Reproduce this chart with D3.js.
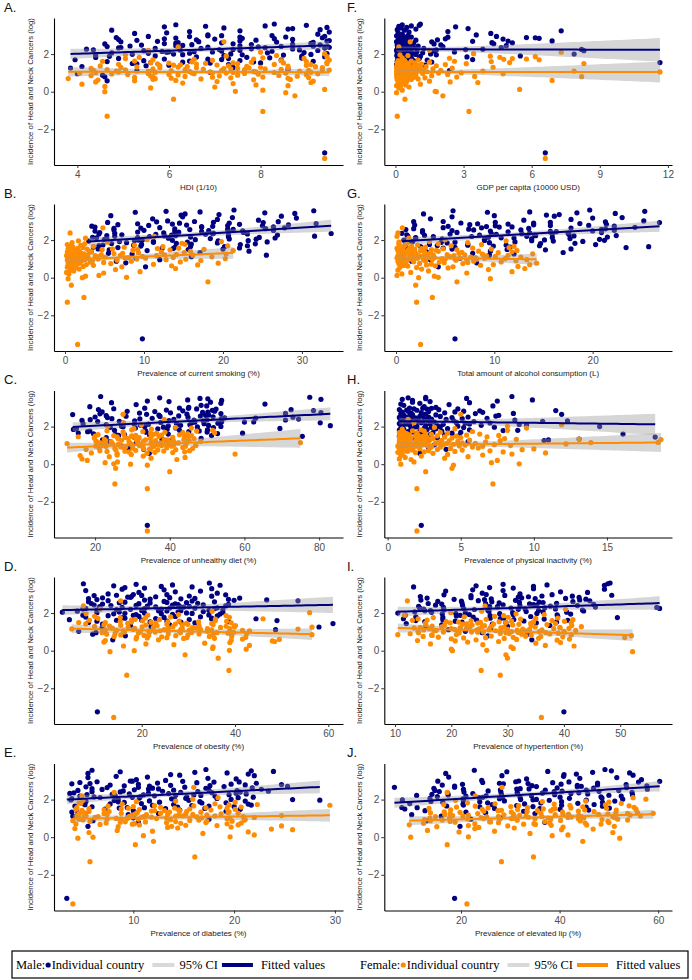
<!DOCTYPE html>
<html>
<head>
<meta charset="utf-8">
<script src="https://cdn.jsdelivr.net/npm/d3@7"></script>
<style>
  body { margin: 0; background: #fff; }
</style>
</head>
<body>
<script>
// log incidence per country (sorted), male and female
const maleInc = [
  -3.25, 0.58, 0.79, 0.88, 0.96, 1.03, 1.12, 1.2, 1.26, 1.29,
  1.34, 1.38, 1.41, 1.44, 1.48, 1.5, 1.52, 1.53, 1.55, 1.57,
  1.58, 1.6, 1.62, 1.63, 1.65, 1.66, 1.68, 1.7, 1.71, 1.73,
  1.74, 1.76, 1.77, 1.79, 1.8, 1.82, 1.83, 1.85, 1.86, 1.88,
  1.89, 1.9, 1.92, 1.93, 1.95, 1.96, 1.97, 1.98, 1.99, 2.0,
  2.01, 2.02, 2.04, 2.05, 2.06, 2.07, 2.08, 2.1, 2.11, 2.12,
  2.13, 2.14, 2.15, 2.16, 2.18, 2.19, 2.2, 2.21, 2.22, 2.23,
  2.24, 2.25, 2.26, 2.27, 2.28, 2.3, 2.31, 2.32, 2.33, 2.34,
  2.35, 2.36, 2.37, 2.38, 2.4, 2.41, 2.42, 2.43, 2.44, 2.45,
  2.46, 2.48, 2.49, 2.5, 2.51, 2.52, 2.54, 2.55, 2.56, 2.57,
  2.58, 2.6, 2.61, 2.62, 2.64, 2.65, 2.66, 2.68, 2.69, 2.7,
  2.72, 2.73, 2.74, 2.76, 2.77, 2.78, 2.8, 2.81, 2.82, 2.84,
  2.85, 2.87, 2.88, 2.9, 2.91, 2.93, 2.94, 2.95, 2.97, 2.98,
  2.99, 3.02, 3.06, 3.1, 3.13, 3.17, 3.2, 3.24, 3.27, 3.3,
  3.33, 3.36, 3.39, 3.42, 3.45, 3.48, 3.5, 3.53, 3.56, 3.6
];
const femaleInc = [
  -3.55, -1.3, -1.05, -0.4, -0.22, -0.05, 0.0, 0.02, 0.08, 0.12,
  0.2, 0.25, 0.28, 0.32, 0.36, 0.4, 0.43, 0.46, 0.49, 0.52,
  0.54, 0.56, 0.58, 0.6, 0.62, 0.63, 0.65, 0.66, 0.68, 0.69,
  0.7, 0.71, 0.72, 0.74, 0.75, 0.76, 0.77, 0.78, 0.8, 0.81,
  0.82, 0.83, 0.84, 0.85, 0.86, 0.88, 0.89, 0.9, 0.91, 0.92,
  0.93, 0.94, 0.95, 0.96, 0.96, 0.97, 0.98, 0.98, 0.99, 0.99,
  1.0, 1.01, 1.02, 1.02, 1.03, 1.04, 1.05, 1.05, 1.06, 1.07,
  1.08, 1.08, 1.09, 1.1, 1.1, 1.11, 1.12, 1.13, 1.13, 1.14,
  1.15, 1.16, 1.17, 1.17, 1.18, 1.19, 1.2, 1.21, 1.21, 1.22,
  1.23, 1.24, 1.24, 1.25, 1.26, 1.27, 1.27, 1.28, 1.29, 1.3,
  1.31, 1.32, 1.33, 1.34, 1.35, 1.36, 1.37, 1.38, 1.39, 1.4,
  1.41, 1.42, 1.43, 1.44, 1.45, 1.46, 1.47, 1.48, 1.49, 1.5,
  1.51, 1.52, 1.53, 1.54, 1.55, 1.56, 1.57, 1.59, 1.6, 1.62,
  1.63, 1.65, 1.67, 1.68, 1.7, 1.72, 1.74, 1.76, 1.78, 1.8,
  1.83, 1.86, 1.89, 1.92, 1.96, 2.02, 2.1, 2.2, 2.38, 2.65
];

// risk factors, same order as the incidence arrays
const hdiMale = [
  9.4, 4.65, 4.6, 4.55, 4.0, 6.9, 5.3, 8.6, 3.85, 7.4,
  4.1, 5.5, 6.0, 7.3, 5.3, 5.2, 6.9, 8.0, 5.6, 6.3,
  7.85, 4.65, 9.15, 6.45, 5.45, 7.55, 8.45, 3.95, 7.15, 6.85,
  5.9, 7.3, 4.9, 8.9, 8.2, 4.4, 7.7, 6.6, 9.4, 4.7,
  8.9, 5.7, 7.2, 4.4, 8.5, 7.6, 6.3, 9.1, 5.2, 6.1,
  7.35, 9.45, 5.55, 6.45, 4.75, 8.15, 8.95, 5.95, 6.95, 6.0,
  6.55, 5.85, 8.25, 7.15, 5.45, 9.25, 7.55, 6.25, 8.85, 4.35,
  7.1, 7.4, 4.2, 8.7, 7.8, 5.7, 6.7, 9.4, 4.9, 8.1,
  4.95, 9.5, 6.85, 7.95, 4.65, 8.45, 9.15, 5.15, 7.55, 6.15,
  6.3, 5.4, 9.3, 6.5, 7.8, 8.7, 4.6, 7.4, 5.9, 9.1,
  6.15, 7.15, 6.2, 9.15, 8.35, 4.95, 6.65, 5.75, 9.45, 7.55,
  9.5, 5.3, 7.9, 6.6, 4.9, 8.7, 7.0, 5.9, 8.3, 7.6,
  6.15, 9.35, 4.85, 7.55, 8.55, 6.45, 5.55, 9.4, 6.85, 7.15,
  8.25, 6.85, 9.25, 5.25, 5.95, 9.5, 6.45, 7.55, 4.75, 9.3,
  8.6, 8.7, 7.2, 9.45, 5.9, 6.8, 8.1, 9.0, 6.15, 8.3
];
const hdiFemale = [
  9.4, 4.65, 8.05, 6.1, 8.75, 8.55, 4.6, 7.45, 8.05, 9.4,
  5.6, 7.0, 4.6, 8.6, 7.9, 4.1, 7.4, 6.3, 9.1, 4.4,
  7.05, 9.15, 5.25, 6.15, 4.45, 7.85, 8.65, 5.65, 6.7, 5.7,
  3.8, 8.6, 6.05, 7.35, 9.05, 5.25, 6.95, 8.05, 5.65, 6.35,
  8.8, 5.6, 7.1, 4.3, 8.4, 7.5, 6.2, 9.0, 5.1, 6.0,
  7.95, 4.75, 9.25, 6.55, 5.55, 7.65, 8.55, 4.05, 7.25, 6.95,
  6.5, 4.4, 8.3, 7.4, 9.1, 5.7, 4.9, 7.9, 6.9, 7.85,
  7.85, 6.45, 8.85, 4.85, 5.55, 9.35, 6.05, 7.15, 4.35, 9.05,
  9.5, 5.05, 7.65, 6.35, 4.65, 8.45, 6.75, 5.65, 8.1, 7.35,
  7.2, 7.5, 4.3, 8.6, 7.75, 5.8, 6.6, 9.35, 4.95, 8.0,
  6.2, 5.3, 9.2, 6.4, 7.7, 8.6, 4.5, 7.3, 5.8, 9.0,
  6.1, 7.05, 6.25, 9.1, 8.3, 4.9, 6.6, 5.75, 9.45, 7.5,
  6.8, 6.0, 8.5, 7.4, 5.6, 9.45, 7.8, 6.5, 9.0, 4.55,
  5.25, 8.45, 6.95, 9.5, 5.65, 6.55, 7.85, 5.05, 8.95, 8.05,
  5.35, 9.45, 7.25, 8.35, 5.05, 9.4, 8.0, 5.55, 6.2, 7.2
];
const smokeMale = [
  9.8, 10.2, 7.7, 6.5, 12, 9, 16, 25.5, 8.5, 5.5,
  17.1, 3.3, 23.3, 10.4, 5.6, 15.6, 20.0, 4.2, 13.7, 12.3,
  22.1, 6.7, 13.9, 3.6, 20.2, 15.9, 9.6, 23.1, 4.3, 8.7,
  4.8, 22.2, 9.7, 16.0, 24.1, 5.9, 14.1, 19.3, 7.8, 11.2,
  15.5, 25.6, 6.9, 11.2, 3.0, 19.4, 23.2, 8.8, 13.6, 9.3,
  9.8, 16.5, 5.0, 24.2, 20.8, 5.3, 18.4, 13.1, 26.6, 4.0,
  9.2, 24.6, 3.5, 15.9, 20.7, 10.7, 6.3, 31.6, 12.6, 14.0,
  5.3, 20.7, 13.5, 26.9, 7.2, 11.5, 17.8, 4.3, 23.1, 18.7,
  33.7, 6.3, 18.8, 12.5, 4.4, 22.6, 14.4, 9.2, 20.7, 17.3,
  13.9, 3.8, 22.5, 18.2, 26.4, 10.0, 6.2, 20.6, 15.8, 21.3,
  20.6, 13.9, 25.4, 6.2, 9.6, 27.8, 12.0, 17.3, 3.8, 26.4,
  17.3, 18.7, 3.4, 25.0, 20.6, 10.6, 15.4, 28.3, 6.7, 22.1,
  13.6, 9.2, 31.8, 14.5, 20.8, 25.1, 5.4, 18.8, 11.6, 27.0,
  16.4, 13.0, 24.5, 19.3, 11.1, 29.3, 21.2, 14.9, 27.4, 5.8,
  14.7, 19.5, 15.2, 29.1, 25.3, 8.9, 17.1, 12.8, 31.5, 21.4
];
const smokeFemale = [
  1.6, 0.3, 2.4, 0.8, 18.1, 0.4, 2.2, 7.8, 2.6, 4.3,
  0.5, 4.9, 0.2, 9.5, 1.1, 0.7, 6.4, 1.8, 14.0, 0.9,
  1.4, 0.3, 7.2, 2.3, 0.8, 13.5, 0.6, 3.6, 16.8, 1.2,
  2.7, 11.2, 0.4, 1.6, 5.8, 0.9, 19.4, 1.9, 0.6, 4.9,
  0.8, 3.2, 14.6, 0.4, 1.3, 8.4, 2.1, 0.6, 17.2, 3.5,
  6.6, 1.0, 0.3, 12.8, 2.5, 1.7, 0.5, 15.3, 9.1, 4.2,
  0.7, 20.3, 1.5, 3.0, 0.4, 10.2, 2.2, 7.6, 1.1, 8.0,
  13.7, 0.9, 2.6, 0.5, 5.1, 18.6, 1.4, 0.3, 9.8, 4.1,
  1.9, 0.6, 11.6, 3.8, 0.2, 7.0, 16.2, 1.2, 2.9, 12.6,
  4.6, 14.1, 0.8, 1.5, 20.4, 0.4, 2.4, 6.2, 0.7, 7.3,
  0.6, 2.0, 9.3, 15.1, 1.3, 0.3, 12.2, 3.3, 1.0, 15.9,
  3.1, 0.5, 1.8, 21.3, 8.6, 1.2, 0.8, 13.3, 4.7, 9.2,
  17.6, 2.8, 0.4, 6.0, 11.7, 1.6, 14.4, 0.7, 2.3, 7.5,
  1.0, 12.4, 3.6, 0.6, 20.6, 2.0, 8.8, 0.3, 15.2, 2.5,
  14.8, 0.9, 5.4, 19.8, 1.7, 10.4, 2.6, 11.3, 0.65, 4.8
];
const dietMale = [
  34, 34.5, 33, 29, 27, 36, 31, 24, 40, 22,
  37.9, 48.4, 23.0, 30.4, 75.5, 44.6, 51.2, 26.3, 34.6, 25.5,
  27.9, 39.6, 19.6, 52.8, 59.5, 15.5, 42.9, 33.7, 50.0, 18.0,
  45.1, 18.6, 47.9, 33.5, 25.2, 42.6, 50.1, 14.2, 39.3, 36.8,
  15.0, 69.5, 30.8, 41.6, 51.7, 24.1, 38.3, 47.4, 27.5, 33.3,
  53.7, 27.1, 39.6, 83.0, 50.4, 42.9, 32.1, 45.4, 23.0, 30.5,
  34.3, 16.8, 49.2, 41.8, 52.9, 27.6, 80.3, 45.9, 37.6, 46.7,
  60.0, 62.5, 53.9, 20.7, 26.5, 49.0, 30.6, 39.8, 16.5, 46.5,
  71.0, 50.0, 18.7, 41.1, 74.5, 32.0, 24.5, 53.8, 35.3, 63.0,
  54.7, 23.3, 44.9, 73.0, 20.0, 51.6, 37.4, 28.3, 48.2, 42.4,
  23.0, 49.6, 37.1, 50.4, 14.0, 33.8, 44.6, 21.3, 53.7, 71.0,
  31.9, 40.2, 80.5, 48.8, 50.2, 21.9, 36.0, 28.6, 52.0, 43.5,
  78.5, 51.4, 39.1, 72.5, 20.9, 52.4, 47.2, 25.0, 45.0, 33.3,
  42.6, 45.1, 18.6, 49.9, 48.4, 31.0, 65.5, 53.7, 24.4, 50.9,
  39.8, 34.0, 53.9, 44.8, 80.5, 50.2, 48.1, 37.3, 77.5, 21.5
];
const dietFemale = [
  34, 34, 25.3, 40, 25.5, 34, 29.5, 25, 22.7, 26,
  17.9, 41.9, 16.5, 35.0, 44.1, 23.8, 32.9, 16.0, 25.9, 29.7,
  57.5, 25.9, 33.9, 19.0, 40.8, 36.0, 29.1, 44.0, 23.2, 28.0,
  38.4, 21.3, 45.3, 30.9, 25.6, 36.8, 41.6, 17.6, 34.6, 33.0,
  34.9, 46.1, 25.3, 30.1, 21.1, 39.2, 43.5, 27.5, 32.8, 26.9,
  28.2, 35.7, 22.9, 44.2, 40.5, 20.2, 37.8, 31.9, 46.9, 21.8,
  47.0, 23.0, 36.8, 29.9, 20.8, 41.1, 32.0, 26.2, 39.0, 35.2,
  22.5, 39.6, 31.6, 12.5, 24.7, 29.5, 36.4, 21.5, 42.3, 37.5,
  75.0, 44.6, 20.6, 35.0, 40.3, 29.1, 24.3, 48.3, 31.3, 32.9,
  31.4, 20.2, 41.0, 36.2, 45.2, 27.1, 22.8, 38.8, 33.5, 39.5,
  38.5, 31.0, 43.8, 22.5, 26.2, 46.5, 28.9, 34.8, 19.8, 44.9,
  31.8, 28.0, 40.8, 35.0, 25.9, 15.5, 37.1, 30.2, 44.0, 20.0,
  29.8, 25.0, 45.8, 30.9, 37.8, 42.6, 20.8, 35.7, 27.7, 44.8,
  34.9, 36.5, 52.0, 43.5, 38.7, 27.5, 32.8, 47.2, 23.2, 51.5,
  29.8, 35.1, 30.4, 45.8, 41.5, 23.4, 32.4, 27.6, 38.5, 27.5
];
const obesMale = [
  10.5, 13.8, 16.5, 9.5, 10.2, 6.5, 48.7, 11.5, 58.0, 22.0,
  17.6, 26.0, 11.6, 61.0, 31.4, 8.6, 28.4, 21.8, 38.6, 10.4,
  25.4, 49.0, 14.6, 20.0, 4.5, 30.2, 35.0, 44.5, 23.0, 16.4,
  35.0, 15.8, 24.8, 8.0, 32.6, 27.2, 19.4, 36.2, 12.8, 18.2,
  7.4, 34.4, 18.8, 26.6, 36.8, 14.0, 24.2, 30.8, 16.4, 20.6,
  29.6, 10.4, 37.4, 3.0, 15.2, 27.8, 33.2, 6.2, 25.4, 23.6,
  28.4, 20.0, 34.4, 10.4, 14.6, 37.4, 17.6, 24.2, 7.4, 35.6,
  20.6, 8.0, 31.4, 26.0, 36.2, 15.8, 11.0, 29.0, 23.0, 28.2,
  11.0, 30.2, 21.2, 38.0, 13.4, 18.8, 26.6, 9.8, 33.2, 27.8,
  38.6, 11.6, 27.2, 19.4, 9.2, 32.0, 21.8, 15.2, 29.6, 25.4,
  16.4, 35.6, 8.6, 24.8, 30.8, 53.5, 12.8, 39.8, 20.6, 46.8,
  10.4, 38.6, 21.8, 28.4, 8.6, 31.4, 41.0, 11.6, 26.0, 17.6,
  17.0, 23.0, 17.8, 35.0, 30.2, 9.8, 20.0, 14.6, 38.0, 25.4,
  18.2, 12.8, 36.2, 19.4, 27.2, 32.6, 8.0, 24.8, 15.8, 35.0,
  20.6, 16.4, 30.8, 24.2, 14.0, 36.8, 26.6, 18.8, 7.5, 34.5
];
const obesFemale = [
  14, 16.8, 38.7, 36.4, 29.3, 13.2, 18.4, 38.8, 42.4, 35.2,
  35.3, 16.1, 43.1, 26.9, 20.9, 33.5, 38.9, 11.9, 48.5, 48.0,
  12.2, 39.2, 23.6, 49.5, 41.6, 18.8, 29.0, 35.6, 21.2, 25.4,
  29.7, 42.3, 18.9, 24.3, 14.1, 34.5, 39.3, 21.3, 27.3, 20.5,
  21.5, 29.9, 15.5, 56.5, 35.3, 12.5, 32.3, 25.7, 42.5, 14.3,
  38.5, 19.3, 28.3, 11.5, 36.1, 30.7, 22.9, 39.7, 16.3, 21.7,
  19.7, 38.9, 11.9, 28.1, 34.1, 21.5, 16.1, 43.1, 23.9, 25.7,
  41.6, 14.6, 30.2, 22.4, 12.2, 35.0, 24.8, 18.2, 32.6, 28.4,
  53.5, 5.0, 34.1, 28.7, 38.9, 18.5, 13.7, 31.7, 25.7, 32.3,
  30.9, 22.5, 36.9, 56.5, 17.1, 39.9, 20.1, 26.7, 9.9, 38.1,
  13.1, 32.3, 23.3, 40.1, 15.5, 20.9, 28.7, 11.9, 35.3, 29.9,
  25.4, 27.2, 8.0, 35.0, 29.6, 17.0, 23.0, 39.2, 12.2, 6.5,
  22.0, 17.8, 32.2, 25.6, 15.4, 38.2, 28.0, 20.2, 35.8, 8.8,
  17.8, 23.8, 18.6, 35.8, 46.0, 10.6, 20.8, 15.4, 38.8, 26.2,
  9.9, 38.1, 21.3, 27.9, 8.1, 56.0, 35.1, 11.1, 7.5, 15.5
];
const diabMale = [
  3.4, 5.5, 10.5, 6.0, 17.5, 10.0, 4.0, 9.5, 12.5, 4.5,
  3.9, 19.2, 10.0, 14.6, 20.6, 7.2, 13.2, 17.1, 8.6, 11.1,
  9.4, 14.4, 5.9, 20.0, 17.5, 4.2, 15.8, 11.9, 21.7, 5.2,
  14.0, 21.4, 7.7, 10.8, 4.9, 16.8, 19.2, 9.1, 12.6, 8.5,
  16.6, 5.3, 21.1, 11.6, 8.1, 15.5, 28.5, 3.8, 14.1, 25.8,
  19.7, 8.5, 13.8, 3.9, 18.3, 15.2, 10.6, 20.4, 6.7, 9.9,
  21.9, 6.1, 15.3, 10.7, 4.7, 18.1, 12.1, 8.2, 16.7, 14.2,
  16.0, 11.0, 19.5, 5.4, 7.9, 21.2, 9.6, 13.5, 3.7, 20.2,
  11.5, 4.1, 17.8, 14.7, 20.6, 8.7, 5.9, 16.4, 12.9, 23.4,
  9.0, 20.3, 4.5, 14.0, 17.5, 10.1, 6.9, 22.7, 11.5, 12.5,
  5.9, 17.2, 11.9, 21.8, 7.4, 10.5, 15.1, 5.3, 19.0, 25.3,
  11.6, 9.1, 17.6, 13.7, 7.7, 21.1, 24.7, 10.5, 19.7, 3.9,
  5.7, 22.2, 12.4, 16.3, 4.7, 18.0, 20.5, 6.4, 14.9, 9.9,
  9.7, 13.2, 10.3, 20.2, 17.4, 5.5, 11.4, 8.3, 22.0, 14.6,
  13.7, 21.4, 5.5, 19.3, 16.1, 8.7, 23.9, 21.7, 5.9, 17.2
];
const diabFemale = [
  4.0, 5.7, 16.1, 10.2, 12.0, 4.5, 6.0, 19.6, 11.0, 22.0,
  16.9, 5.6, 21.4, 11.9, 8.4, 25.8, 23.7, 4.2, 14.4, 13.4,
  19.7, 8.5, 13.8, 24.7, 18.3, 15.2, 10.6, 20.4, 6.7, 9.9,
  4.3, 19.3, 10.1, 14.7, 20.7, 7.3, 13.3, 17.2, 8.7, 11.2,
  9.2, 14.2, 5.7, 19.8, 17.3, 4.0, 15.6, 21.0, 16.5, 5.0,
  13.7, 21.1, 7.4, 10.5, 4.6, 16.5, 19.3, 8.8, 12.3, 9.4,
  8.3, 19.6, 4.6, 13.3, 16.8, 9.4, 6.2, 22.0, 10.8, 11.8,
  5.1, 16.3, 11.0, 20.9, 6.5, 9.6, 14.2, 4.4, 18.1, 14.9,
  24.7, 5.3, 14.5, 9.9, 4.5, 17.3, 11.3, 7.4, 15.9, 13.4,
  15.2, 10.2, 18.7, 4.6, 7.1, 20.4, 8.8, 12.7, 5.2, 19.4,
  10.4, 4.8, 16.7, 13.6, 19.5, 7.6, 5.6, 15.3, 11.8, 14.6,
  12.1, 13.1, 4.9, 17.7, 14.5, 7.1, 10.6, 20.1, 4.3, 15.6,
  8.8, 5.6, 19.3, 9.5, 14.1, 17.2, 4.4, 12.7, 20.7, 18.6,
  10.0, 7.5, 16.0, 12.1, 29.5, 19.5, 22.3, 8.9, 18.1, 4.8,
  4.6, 20.1, 10.3, 14.2, 5.0, 15.9, 18.4, 4.9, 8.1, 16.0
];
const gdpMale = [
  6.6, 0.3, 0.15, 0.5, 0.2, 0.2, 2.38, 0.6, 0.1, 0.9,
  0.4, 0.25, 1.3, 0.05, 0.7, 0.5, 0.35, 0.12, 11.65, 0.55,
  1.6, 0.2, 0.45, 0.08, 0.8, 0.3, 1.4, 0.4, 3.4, 0.15,
  0.6, 0.25, 1.05, 0.4, 0.1, 0.7, 0.35, 3.15, 0.5, 1.1,
  0.2, 5.5, 0.65, 0.06, 0.3, 1.8, 0.45, 0.9, 0.18, 7.87,
  1.55, 0.28, 0.75, 0.1, 0.55, 1.2, 0.38, 0.08, 2.6, 0.5,
  0.22, 0.95, 0.15, 1.7, 8.3, 0.42, 0.6, 0.05, 1.8, 0.3,
  3.09, 8.2, 3.85, 0.12, 0.7, 1.25, 0.35, 0.2, 0.85, 0.48,
  4.66, 0.1, 0.62, 0.25, 2.09, 0.4, 1.0, 0.15, 0.55, 4.88,
  0.3, 0.08, 2.0, 0.45, 0.7, 0.2, 1.7, 4.33, 0.35, 0.1,
  0.8, 5.15, 4.25, 0.5, 0.25, 1.6, 0.05, 3.4, 4.96, 6.9,
  0.4, 0.15, 0.9, 1.85, 0.3, 0.6, 4.74, 2.2, 0.45, 6.33,
  0.25, 6.16, 5.77, 2.31, 0.7, 0.1, 4.45, 0.35, 0.05, 0.55,
  0.2, 3.56, 0.3, 4.2, 0.12, 0.6, 2.31, 7.3, 0.4, 0.08,
  0.9, 3.2, 0.25, 0.5, 2.65, 0.15, 0.7, 1.05, 0.3, 1.1
];
const gdpFemale = [
  6.6, 0.08, 3.24, 0.42, 2.09, 0.05, 1.8, 1.75, 0.3, 5.47,
  0.15, 0.6, 0.22, 0.05, 0.45, 1.1, 0.3, 0.12, 3.63, 2.41,
  0.5, 1.5, 0.25, 6.9, 0.35, 0.08, 0.7, 0.18, 1.0, 0.4,
  0.1, 0.55, 0.28, 1.3, 0.06, 0.8, 0.35, 2.7, 8.2, 3.49,
  0.2, 0.65, 0.12, 1.6, 0.45, 0.3, 0.9, 0.05, 0.5, 2.3,
  0.15, 0.75, 4.74, 0.25, 0.4, 1.2, 0.1, 0.6, 0.32, 1.9,
  2.9, 0.2, 0.5, 0.08, 0.85, 0.38, 11.65, 0.15, 1.4, 0.55,
  0.25, 0.05, 0.7, 7.87, 3.85, 0.3, 1.05, 0.12, 0.45, 2.0,
  0.2, 0.6, 0.35, 1.25, 0.08, 0.5, 0.9, 0.18, 1.65, 0.4,
  0.1, 0.75, 0.28, 2.5, 0.55, 0.05, 1.1, 0.3, 0.65, 4.3,
  0.2, 0.45, 1.35, 0.12, 0.8, 0.35, 0.06, 1.8, 0.5, 0.25,
  0.95, 0.15, 0.6, 2.2, 0.4, 0.1, 1.15, 0.3, 3.12, 8.3,
  0.55, 0.2, 0.85, 0.08, 5.03, 0.45, 1.5, 0.25, 4.22, 2.6,
  0.7, 0.12, 0.4, 1.0, 6.33, 4.77, 5.77, 5.15, 2.38, 0.3,
  4.6, 6.16, 4.18, 0.55, 0.2, 3.44, 7.3, 1.5, 0.15, 0.65
];
const alcMale = [
  6.0, 4.3, 8.2, 1.6, 3.5, 6.5, 2.2, 9.5, 12.0, 7.8,
  17.0, 3.1, 9.6, 0.8, 15.2, 11.3, 5.7, 17.8, 1.2, 4.8,
  0.6, 23.4, 6.0, 11.6, 25.7, 2.5, 9.9, 14.6, 4.2, 7.3,
  11.2, 20.3, 3.4, 7.3, 1.0, 14.7, 18.2, 5.2, 9.5, 4.6,
  6.0, 12.1, 1.7, 19.0, 16.0, 1.4, 13.8, 9.0, 21.2, 0.8,
  15.1, 1.2, 20.7, 9.0, 4.7, 13.8, 17.7, 2.0, 12.0, 10.7,
  2.0, 15.9, 9.4, 21.5, 3.8, 7.7, 13.3, 1.2, 18.1, 14.2,
  22.4, 2.9, 14.1, 8.5, 1.1, 17.6, 10.2, 5.5, 15.9, 12.8,
  9.7, 0.6, 17.5, 13.6, 20.9, 6.2, 2.7, 15.7, 11.4, 16.3,
  15.7, 9.6, 20.0, 2.7, 5.7, 22.2, 7.9, 12.7, 1.0, 20.9,
  7.4, 21.3, 1.8, 13.5, 17.8, 8.7, 4.8, 24.3, 10.5, 11.8,
  9.2, 5.3, 22.2, 10.1, 15.7, 19.6, 1.9, 14.0, 7.5, 21.4,
  11.4, 8.3, 18.7, 14.0, 6.6, 26.8, 15.7, 10.1, 21.3, 1.8,
  4.8, 25.2, 13.0, 17.8, 3.5, 20.0, 23.0, 5.7, 16.1, 10.0,
  15.3, 16.6, 2.8, 22.3, 18.4, 9.3, 13.6, 25.3, 5.8, 19.7
];
const alcFemale = [
  2.5, 2.1, 3.7, 2.0, 6.2, 9.6, 2.3, 4.3, 3.9, 0.1,
  0.6, 7.2, 1.5, 11.8, 3.3, 0.2, 9.4, 2.6, 13.1, 5.3,
  2.1, 0.4, 5.8, 12.4, 1.2, 4.0, 0.8, 8.6, 3.1, 13.6,
  9.9, 1.0, 3.6, 0.3, 6.8, 2.4, 14.3, 0.7, 4.9, 7.3,
  0.5, 4.4, 10.7, 1.8, 0.2, 7.9, 3.0, 12.2, 1.1, 7.2,
  6.1, 0.9, 2.8, 13.3, 0.4, 3.7, 8.2, 1.6, 5.0, 6.0,
  1.3, 11.1, 0.6, 4.7, 2.2, 9.0, 0.1, 6.5, 3.4, 8.1,
  3.9, 0.3, 7.6, 1.9, 12.7, 0.8, 5.5, 2.7, 10.1, 0.5,
  0.7, 9.2, 2.3, 0.2, 5.9, 11.4, 1.4, 3.8, 7.0, 3.1,
  5.2, 1.7, 0.4, 8.8, 3.2, 0.9, 13.9, 2.0, 6.4, 2.0,
  0.3, 3.5, 10.4, 1.0, 6.7, 0.6, 2.9, 11.8, 1.5, 4.3,
  8.4, 0.8, 2.5, 0.2, 12.3, 4.1, 1.2, 6.2, 3.6, 2.7,
  1.9, 9.7, 0.5, 4.8, 2.6, 0.1, 7.8, 1.4, 11.5, 0.7,
  3.0, 0.4, 12.0, 1.6, 5.6, 0.9, 2.2, 8.7, 0.3, 4.3,
  1.1, 7.3, 0.3, 3.4, 11.2, 5.0, 1.3, 0.1, 0.2, 0.65
];
const inactMale = [
  2.3, 2.2, 4.0, 2.8, 1.5, 3.2, 0.9, 5.5, 10.7, 11.0,
  13.1, 1.8, 3.4, 18.3, 0.8, 2.6, 4.9, 1.3, 3.9, 2.1,
  2.9, 16.1, 2.2, 1.2, 4.4, 0.9, 3.1, 5.0, 1.7, 2.4,
  1.4, 3.7, 2.2, 7.9, 8.9, 0.8, 5.6, 2.7, 1.1, 3.3,
  4.1, 1.6, 2.5, 0.9, 5.2, 3.0, 7.3, 1.9, 3.6, 14.5,
  2.0, 4.8, 1.0, 3.4, 2.6, 6.4, 1.5, 9.5, 9.0, 3.8,
  1.2, 5.6, 2.9, 0.8, 5.3, 7.0, 2.3, 1.7, 4.7, 2.0,
  3.2, 1.4, 5.9, 2.4, 10.6, 12.3, 0.9, 4.5, 1.8, 2.7,
  8.7, 2.1, 1.0, 4.0, 3.0, 1.6, 5.1, 2.5, 6.8, 1.3,
  1.9, 4.4, 0.8, 2.8, 5.5, 1.2, 3.6, 2.2, 7.4, 1.5,
  2.4, 7.6, 1.1, 3.3, 1.7, 11.9, 2.6, 0.9, 6.0, 8.6,
  1.6, 3.9, 2.3, 6.5, 1.0, 4.6, 2.8, 1.4, 5.2, 6.3,
  11.5, 2.0, 1.3, 3.5, 0.8, 2.7, 4.8, 1.8, 3.0, 2.4,
  1.5, 3.3, 2.5, 7.2, 1.1, 4.2, 0.9, 2.2, 5.6, 1.7,
  2.9, 7.5, 1.7, 9.9, 1.0, 2.6, 5.4, 1.4, 2.6, 8.5
];
const inactFemale = [
  2.0, 2.0, 7.2, 2.6, 4.4, 4.5, 0.9, 9.0, 7.1, 1.8,
  7.5, 1.6, 0.8, 3.9, 1.2, 5.5, 2.3, 0.9, 6.5, 4.1,
  8.5, 1.0, 3.1, 10.8, 1.9, 0.7, 7.9, 2.5, 4.6, 1.3,
  1.4, 7.0, 2.8, 0.9, 5.1, 1.7, 9.2, 3.4, 1.1, 10.0,
  2.2, 0.8, 4.3, 1.5, 6.2, 2.9, 1.0, 3.6, 5.8, 1.8,
  3.0, 1.2, 6.5, 2.0, 0.7, 4.9, 1.6, 2.7, 8.4, 1.1,
  1.7, 5.3, 2.4, 0.9, 3.8, 7.3, 1.3, 2.1, 4.5, 1.0,
  12.2, 2.6, 1.1, 4.0, 1.8, 6.0, 0.8, 3.3, 2.2, 5.1,
  13.9, 18.5, 1.5, 3.5, 0.9, 6.7, 2.3, 1.2, 4.8, 2.8,
  1.9, 4.2, 0.8, 7.7, 2.5, 1.4, 3.7, 5.6, 1.0, 2.9,
  18.7, 8.8, 2.2, 13.1, 1.3, 8.0, 3.1, 0.9, 4.4, 2.0,
  1.6, 5.0, 2.7, 0.8, 3.9, 6.8, 1.2, 2.4, 4.7, 1.9,
  3.4, 1.0, 7.6, 2.1, 5.4, 1.5, 0.9, 3.0, 6.3, 2.6,
  1.3, 4.1, 2.0, 0.8, 3.6, 1.1, 5.8, 2.5, 1.7, 8.2,
  2.3, 1.0, 4.6, 9.5, 3.2, 8.2, 11.9, 1.8, 1.4, 5.0
];
const hyperMale = [
  40, 34.3, 26.5, 33.5, 25.5, 22.5, 19.5, 27.0, 15.5, 30.0,
  37.5, 18.3, 27.3, 12.0, 35.1, 29.7, 21.9, 38.7, 15.3, 20.7,
  32.9, 13.7, 40.7, 24.5, 18.5, 31.1, 36.5, 11.5, 28.7, 26.9,
  29.3, 49.5, 18.5, 23.9, 13.7, 34.1, 38.9, 20.9, 26.9, 21.6,
  11.8, 38.8, 23.2, 31.0, 41.2, 18.4, 28.6, 35.2, 20.8, 10.5,
  22.5, 30.9, 16.5, 40.5, 36.3, 13.5, 33.3, 26.7, 43.5, 15.3,
  16.3, 35.5, 26.5, 43.3, 18.7, 24.1, 31.9, 15.1, 38.5, 33.1,
  22.2, 57.0, 14.4, 30.6, 36.6, 56.5, 18.6, 45.6, 26.4, 28.2,
  26.8, 14.2, 37.6, 32.2, 42.4, 22.0, 17.2, 35.2, 29.2, 34.6,
  45.3, 18.3, 33.9, 26.1, 15.9, 38.7, 28.5, 21.9, 36.3, 32.1,
  35.6, 27.2, 41.6, 17.6, 21.8, 44.6, 24.8, 31.4, 14.6, 42.8,
  25.9, 20.5, 43.9, 27.1, 34.9, 40.3, 15.7, 32.5, 23.5, 42.7,
  31.9, 33.7, 14.5, 41.5, 36.1, 23.5, 29.5, 48.5, 18.7, 37.9,
  26.2, 32.2, 25.5, 44.2, 39.4, 19.0, 29.2, 23.8, 47.2, 34.6,
  31.0, 26.8, 13.3, 34.6, 24.4, 47.2, 37.0, 29.2, 47.8, 48.2
];
const hyperFemale = [
  36, 28.7, 25.3, 30, 29.7, 52.2, 20.2, 26.3, 20, 31,
  30.6, 41.8, 36.7, 25.6, 16.3, 35.0, 39.4, 22.9, 28.4, 20.7,
  14.0, 38.8, 24.4, 31.6, 41.0, 20.0, 29.4, 35.5, 22.2, 26.1,
  50.8, 31.0, 17.7, 39.8, 35.9, 15.0, 33.2, 27.1, 52.0, 16.6,
  34.2, 16.5, 41.3, 10.5, 20.9, 32.5, 37.5, 12.7, 30.3, 28.7,
  39.0, 21.4, 29.7, 14.2, 36.8, 31.9, 24.7, 40.1, 18.6, 23.6,
  25.7, 14.1, 35.6, 30.7, 40.0, 21.3, 16.9, 33.4, 27.9, 32.6,
  42.1, 17.3, 31.7, 24.5, 15.1, 36.1, 26.7, 20.6, 33.9, 30.0,
  32.7, 24.9, 38.2, 16.1, 20.0, 40.9, 22.7, 28.8, 13.4, 39.3,
  21.6, 39.3, 14.5, 29.4, 34.9, 23.3, 18.3, 43.1, 25.5, 27.1,
  16.6, 34.2, 25.9, 41.4, 18.8, 23.7, 30.9, 15.5, 37.0, 32.0,
  22.0, 27.5, 22.8, 38.5, 34.1, 15.4, 24.7, 19.8, 41.3, 29.7,
  25.2, 21.3, 34.6, 28.5, 19.1, 40.1, 30.7, 23.5, 37.9, 13.1,
  15.7, 41.6, 26.2, 32.3, 14.1, 35.0, 38.9, 16.8, 30.1, 22.3,
  27.7, 29.3, 11.7, 36.5, 31.5, 19.9, 25.4, 40.3, 26.0, 12.2
];
const lipMale = [
  18.7, 19.8, 37, 13, 22, 28, 16, 10, 35, 25,
  21.0, 32.7, 12.7, 45.9, 40.1, 8.6, 36.0, 26.8, 50.1, 11.1,
  8.0, 45.4, 23.8, 34.6, 48.7, 17.1, 31.3, 40.4, 20.5, 26.3,
  47.0, 20.4, 32.9, 9.6, 43.7, 36.2, 25.4, 48.7, 16.3, 23.8,
  40.4, 13.9, 51.2, 28.8, 20.5, 37.9, 45.4, 8.1, 34.6, 32.1,
  35.3, 52.8, 20.4, 27.8, 13.7, 42.0, 48.6, 23.7, 32.0, 24.4,
  40.1, 28.4, 48.4, 15.2, 21.0, 52.5, 25.1, 34.3, 11.0, 50.0,
  54.8, 17.4, 39.0, 28.2, 14.1, 45.7, 31.5, 22.4, 42.3, 36.5,
  17.3, 43.9, 31.4, 54.7, 20.6, 28.1, 38.9, 15.6, 48.0, 40.5,
  25.5, 52.0, 14.7, 37.1, 45.4, 28.0, 20.5, 57.8, 31.3, 33.8,
  32.0, 14.5, 46.9, 39.5, 53.6, 6.5, 18.7, 43.6, 35.3, 44.4,
  18.7, 57.7, 34.4, 43.6, 16.2, 47.7, 53.5, 20.3, 40.3, 28.6,
  33.6, 27.8, 47.7, 38.6, 24.4, 56.0, 41.9, 31.1, 60.3, 15.3,
  31.7, 24.2, 56.6, 33.3, 44.1, 51.6, 17.5, 40.8, 28.3, 54.9,
  40.9, 43.4, 16.9, 54.2, 46.7, 29.3, 37.6, 50.5, 22.7, 49.2
];
const lipFemale = [
  21.2, 28.2, 34.7, 17.2, 44.7, 52.2, 9.8, 21.5, 38.5, 41.7,
  34.0, 50.8, 19.6, 26.8, 13.2, 40.4, 46.8, 22.8, 30.8, 23.6,
  40.7, 15.1, 51.1, 29.5, 21.5, 38.3, 45.5, 9.5, 35.1, 32.7,
  48.4, 22.8, 34.8, 12.4, 45.2, 38.0, 27.6, 50.0, 18.8, 26.0,
  25.8, 37.0, 17.8, 49.8, 44.2, 13.8, 40.2, 31.4, 53.8, 16.2,
  12.6, 48.6, 27.8, 38.2, 51.8, 21.4, 35.0, 43.8, 24.6, 30.2,
  30.5, 13.7, 44.9, 37.7, 51.3, 24.1, 17.7, 41.7, 33.7, 42.4,
  25.2, 50.8, 14.8, 36.4, 44.4, 27.6, 20.4, 56.4, 30.8, 33.2,
  18.3, 43.9, 31.9, 54.3, 21.5, 28.7, 39.1, 16.7, 47.9, 40.7,
  41.8, 30.6, 49.8, 17.8, 23.4, 53.8, 59.0, 36.2, 13.8, 51.4,
  55.8, 19.8, 40.6, 30.2, 16.6, 47.0, 33.4, 24.6, 43.8, 38.2,
  27.5, 35.5, 28.2, 51.5, 45.1, 17.9, 31.5, 24.3, 55.5, 38.7,
  36.7, 39.1, 13.5, 49.5, 42.3, 25.5, 33.5, 55.1, 19.1, 44.7,
  30.1, 22.9, 54.1, 31.7, 42.1, 49.3, 16.5, 38.9, 26.9, 52.5,
  21.3, 50.0, 36.5, 45.3, 18.9, 57.5, 54.9, 22.9, 17.2, 28.3
];

// panels A-E (left column) then F-J (right column)
const panelLabels = ["A.", "B.", "C.", "D.", "E.", "F.", "G.", "H.", "I.", "J."];
const xTitles = [
  "HDI (1/10)", "Prevalence of current smoking (%)", "Prevalence of unhealthy diet (%)",
  "Prevalence of obesity (%)", "Prevalence of diabetes (%)", "GDP per capita (10000 USD)",
  "Total amount of alcohol consumption (L)", "Prevalence of physical inactivity (%)",
  "Prevalence of hypertention (%)", "Prevalence of elevated lip (%)"
];
const xTicks = [[4, 6, 8], [0, 10, 20, 30], [20, 40, 60, 80], [20, 40, 60], [10, 20, 30],
  [0, 3, 6, 9, 12], [0, 10, 20], [0, 5, 10, 15], [10, 20, 30, 40, 50], [20, 40, 60]];
const xLimits = [[3.49, 9.8], [-1.39, 35.2], [9.0, 86.4], [1.2, 63.15], [2.13, 30.8],
  [-0.49, 12.18], [-1.19, 28.07], [-0.23, 19.45], [8.1, 59.2], [4.44, 62.8]];
const yTicks = [-2, 0, 2];
const yLimits = [-3.9, 3.92];
const xMale = [hdiMale, smokeMale, dietMale, obesMale, diabMale, gdpMale, alcMale, inactMale, hyperMale, lipMale];
const xFemale = [hdiFemale, smokeFemale, dietFemale, obesFemale, diabFemale, gdpFemale, alcFemale, inactFemale, hyperFemale, lipFemale];

const sans = "'Liberation Sans', Arial, sans-serif";
const serif = "'Liberation Serif', 'Times New Roman', serif";
const navy = "#000080", orange = "#ff8c00";

const colLeft = [54, 384.3], colWidth = [289, 287.7];
const rowTop = [18, 204, 390.5, 577, 763.5], plotH = 147;

const svg = d3.select("body").append("svg")
  .attr("width", 692).attr("height", 980)
  .style("display", "block");

// ordinary least squares with 95% CI of the mean
function linFit(xs, ys) {
  const n = Math.min(xs.length, ys.length);
  const px = xs.slice(0, n), py = ys.slice(0, n);
  const mx = d3.mean(px), my = d3.mean(py);
  let sxx = 0, sxy = 0;
  for (let i = 0; i < n; i++) {
    sxx += (px[i] - mx) * (px[i] - mx);
    sxy += (px[i] - mx) * (py[i] - my);
  }
  const b = sxy / sxx, a = my - b * mx;
  let sse = 0;
  for (let i = 0; i < n; i++) sse += Math.pow(py[i] - a - b * px[i], 2);
  const s = Math.sqrt(sse / (n - 2));
  const lo = d3.min(px), hi = d3.max(px);
  const grid = d3.range(61).map(k => lo + (hi - lo) * k / 60);
  return grid.map(x => {
    const yh = a + b * x;
    const se = s * Math.sqrt(1 / n + (x - mx) * (x - mx) / sxx);
    return { x: x, y: yh, lo: yh - 1.976 * se, hi: yh + 1.976 * se };
  });
}

panelLabels.forEach((lab, i) => {
  const col = i < 5 ? 0 : 1, row = i % 5;
  const left = colLeft[col], top = rowTop[row];
  const x = d3.scaleLinear().domain(xLimits[i]).range([left, left + colWidth[col]]);
  const y = d3.scaleLinear().domain(yLimits).range([top + plotH, top]);
  const g = svg.append("g");

  const series = [
    { xs: xMale[i], ys: maleInc, color: navy },
    { xs: xFemale[i], ys: femaleInc, color: orange }
  ];

  series.forEach(s => {
    const pts = d3.range(Math.min(s.xs.length, s.ys.length)).map(k => [s.xs[k], s.ys[k]]);
    g.append("g").selectAll("circle").data(pts).join("circle")
      .attr("cx", d => x(d[0])).attr("cy", d => y(d[1]))
      .attr("r", 2.6).attr("fill", s.color);
  });

  series.forEach(s => {
    const fit = linFit(s.xs, s.ys);
    g.append("path").datum(fit)
      .attr("d", d3.area().x(d => x(d.x)).y0(d => y(d.lo)).y1(d => y(d.hi)))
      .attr("fill", "#999999").attr("fill-opacity", 0.4);
    g.append("path").datum(fit)
      .attr("d", d3.line().x(d => x(d.x)).y(d => y(d.y)))
      .attr("fill", "none").attr("stroke", s.color).attr("stroke-width", 2);
  });

  const xa = g.append("g").attr("transform", `translate(0,${top + plotH})`)
    .call(d3.axisBottom(x).tickValues(xTicks[i]).tickSize(3).tickSizeOuter(0).tickPadding(3).tickFormat(d3.format("d")));
  const ya = g.append("g").attr("transform", `translate(${left},0)`)
    .call(d3.axisLeft(y).tickValues(yTicks).tickSize(3).tickSizeOuter(0).tickPadding(2).tickFormat(d3.format("d")));
  [xa, ya].forEach(a => {
    a.attr("font-family", sans).attr("font-size", 10);
    a.select(".domain").attr("stroke", "#000").attr("stroke-width", 1.1);
    a.selectAll(".tick line").attr("stroke", "#333");
    a.selectAll(".tick text").attr("fill", "#4d4d4d");
  });

  g.append("text")
    .attr("x", left + colWidth[col] / 2).attr("y", top + plotH + 25)
    .attr("text-anchor", "middle").attr("font-family", sans).attr("font-size", 8)
    .attr("fill", "#222").text(xTitles[i]);

  g.append("text")
    .attr("transform", `translate(${col === 0 ? 32.5 : 362},${top + plotH / 2}) rotate(-90)`)
    .attr("text-anchor", "middle").attr("font-family", sans).attr("font-size", 7.8)
    .attr("fill", "#222").text("Incidence of Head and Neck Cancers (log)");

  g.append("text")
    .attr("x", col === 0 ? 4 : 347).attr("y", top - 6.5)
    .attr("font-family", sans).attr("font-size", 13).attr("fill", "#111")
    .text(lab);
});

// legend, laid out left to right from each group's start
const lg = svg.append("g");
lg.append("rect").attr("x", 12).attr("y", 951).attr("width", 676).attr("height", 27)
  .attr("fill", "none").attr("stroke", "#000").attr("stroke-width", 1.2);
const legendGroups = [
  { start: 16, name: "Male:", color: navy },
  { start: 360, name: "Female:", color: orange }
];
const ly = 965;
legendGroups.forEach(r => {
  let cx = r.start;
  const addText = s => {
    const t = lg.append("text").attr("x", cx).attr("y", ly + 4.3)
      .attr("font-family", serif).attr("font-size", 12.5).attr("fill", "#000").text(s);
    cx += t.node().getComputedTextLength();
  };
  const addLine = (len, color) => {
    lg.append("line").attr("x1", cx).attr("x2", cx + len).attr("y1", ly).attr("y2", ly)
      .attr("stroke", color).attr("stroke-width", 4);
    cx += len;
  };
  addText(r.name);
  lg.append("circle").attr("cx", cx + 3).attr("cy", ly).attr("r", 2.6).attr("fill", r.color);
  cx += 6.5;
  addText("Individual country");
  cx += 8;
  addLine(22, "#d9d9d9");
  cx += 5;
  addText("95% CI");
  cx += 4;
  addLine(31, r.color);
  cx += 8;
  addText("Fitted values");
});
</script>
</body>
</html>
